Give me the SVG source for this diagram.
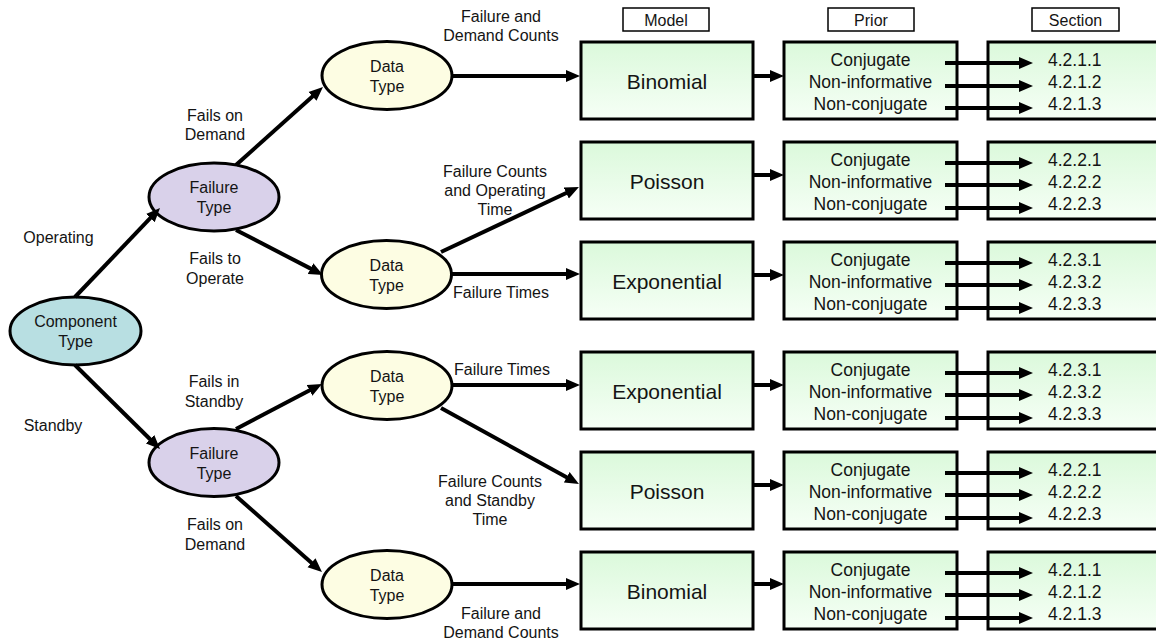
<svg xmlns="http://www.w3.org/2000/svg" width="1156" height="640" viewBox="0 0 1156 640">
<style>
text{font-family:"Liberation Sans",Arial,sans-serif;fill:#141414}
.lbl{font-size:16px;text-anchor:middle}
.node{font-size:16px;text-anchor:middle}
.model{font-size:21px;text-anchor:middle}
.prior{font-size:17.5px;text-anchor:middle}
.sec{font-size:17.5px}
.hdr{font-size:16px;text-anchor:middle}
.ell{stroke:#000;stroke-width:3}
.comp{fill:#b8dfe2}
.ft{fill:#d9d1ea}
.dt{fill:#fdfde3}
.box{fill:url(#g);stroke:#000;stroke-width:3}
.hbox{fill:#fff;stroke:#000;stroke-width:1.5}
.c line{stroke:#000;stroke-width:4;marker-end:url(#a)}
</style>
<defs>
<linearGradient id="g" x1="0" y1="0" x2="0" y2="1">
<stop offset="0" stop-color="#dbf9db"/>
<stop offset="1" stop-color="#f6fff6"/>
</linearGradient>
<marker id="a" markerUnits="userSpaceOnUse" markerWidth="15" markerHeight="13" refX="4" refY="6.5" orient="auto">
<path d="M0,0.5 L14,6.5 L0,12.5 z" fill="#000"/>
</marker>
</defs>

<g id="headers">
<rect class="hbox" x="623" y="8" width="86" height="23"/><text class="hdr" x="666" y="25.5">Model</text>
<rect class="hbox" x="828" y="8" width="86" height="23"/><text class="hdr" x="871" y="25.5">Prior</text>
<rect class="hbox" x="1032" y="8" width="87" height="23"/><text class="hdr" x="1075.5" y="25.5">Section</text>
</g>

<g id="component"><ellipse class="ell comp" cx="75.5" cy="331" rx="65.5" ry="34"/><text class="node" x="75.5" y="327">Component</text><text class="node" x="75.5" y="347">Type</text></g>
<g id="ft1"><ellipse class="ell ft" cx="214" cy="197" rx="65" ry="34"/><text class="node" x="214" y="193">Failure</text><text class="node" x="214" y="213">Type</text></g>
<g id="ft2"><ellipse class="ell ft" cx="214" cy="462.5" rx="65" ry="34"/><text class="node" x="214" y="458.5">Failure</text><text class="node" x="214" y="478.5">Type</text></g>
<g id="dt1"><ellipse class="ell dt" cx="387" cy="75.5" rx="65" ry="34"/><text class="node" x="387" y="71.5">Data</text><text class="node" x="387" y="91.5">Type</text></g>
<g id="dt2"><ellipse class="ell dt" cx="386.5" cy="274.5" rx="65" ry="34"/><text class="node" x="386.5" y="270.5">Data</text><text class="node" x="386.5" y="290.5">Type</text></g>
<g id="dt3"><ellipse class="ell dt" cx="387" cy="385.5" rx="65" ry="34"/><text class="node" x="387" y="381.5">Data</text><text class="node" x="387" y="401.5">Type</text></g>
<g id="dt4"><ellipse class="ell dt" cx="387" cy="584.5" rx="65" ry="34"/><text class="node" x="387" y="580.5">Data</text><text class="node" x="387" y="600.5">Type</text></g>

<g id="model1"><rect class="box" x="581" y="42" width="172" height="77"/><text class="model" x="667" y="89">Binomial</text></g>
<g id="model2"><rect class="box" x="581" y="142" width="172" height="77"/><text class="model" x="667" y="189">Poisson</text></g>
<g id="model3"><rect class="box" x="581" y="242" width="172" height="77"/><text class="model" x="667" y="289">Exponential</text></g>
<g id="model4"><rect class="box" x="581" y="352" width="172" height="77"/><text class="model" x="667" y="399">Exponential</text></g>
<g id="model5"><rect class="box" x="581" y="452" width="172" height="77"/><text class="model" x="667" y="499">Poisson</text></g>
<g id="model6"><rect class="box" x="581" y="552" width="172" height="77"/><text class="model" x="667" y="599">Binomial</text></g>

<g id="prior1"><rect class="box" x="784" y="42" width="173" height="77"/><text class="prior" x="870.5" y="66">Conjugate</text><text class="prior" x="870.5" y="88">Non-informative</text><text class="prior" x="870.5" y="110">Non-conjugate</text></g>
<g id="prior2"><rect class="box" x="784" y="142" width="173" height="77"/><text class="prior" x="870.5" y="166">Conjugate</text><text class="prior" x="870.5" y="188">Non-informative</text><text class="prior" x="870.5" y="210">Non-conjugate</text></g>
<g id="prior3"><rect class="box" x="784" y="242" width="173" height="77"/><text class="prior" x="870.5" y="266">Conjugate</text><text class="prior" x="870.5" y="288">Non-informative</text><text class="prior" x="870.5" y="310">Non-conjugate</text></g>
<g id="prior4"><rect class="box" x="784" y="352" width="173" height="77"/><text class="prior" x="870.5" y="376">Conjugate</text><text class="prior" x="870.5" y="398">Non-informative</text><text class="prior" x="870.5" y="420">Non-conjugate</text></g>
<g id="prior5"><rect class="box" x="784" y="452" width="173" height="77"/><text class="prior" x="870.5" y="476">Conjugate</text><text class="prior" x="870.5" y="498">Non-informative</text><text class="prior" x="870.5" y="520">Non-conjugate</text></g>
<g id="prior6"><rect class="box" x="784" y="552" width="173" height="77"/><text class="prior" x="870.5" y="576">Conjugate</text><text class="prior" x="870.5" y="598">Non-informative</text><text class="prior" x="870.5" y="620">Non-conjugate</text></g>

<g id="sec1"><rect class="box" x="988" y="42" width="180" height="77"/><text class="sec" x="1048" y="66">4.2.1.1</text><text class="sec" x="1048" y="88">4.2.1.2</text><text class="sec" x="1048" y="110">4.2.1.3</text></g>
<g id="sec2"><rect class="box" x="988" y="142" width="180" height="77"/><text class="sec" x="1048" y="166">4.2.2.1</text><text class="sec" x="1048" y="188">4.2.2.2</text><text class="sec" x="1048" y="210">4.2.2.3</text></g>
<g id="sec3"><rect class="box" x="988" y="242" width="180" height="77"/><text class="sec" x="1048" y="266">4.2.3.1</text><text class="sec" x="1048" y="288">4.2.3.2</text><text class="sec" x="1048" y="310">4.2.3.3</text></g>
<g id="sec4"><rect class="box" x="988" y="352" width="180" height="77"/><text class="sec" x="1048" y="376">4.2.3.1</text><text class="sec" x="1048" y="398">4.2.3.2</text><text class="sec" x="1048" y="420">4.2.3.3</text></g>
<g id="sec5"><rect class="box" x="988" y="452" width="180" height="77"/><text class="sec" x="1048" y="476">4.2.2.1</text><text class="sec" x="1048" y="498">4.2.2.2</text><text class="sec" x="1048" y="520">4.2.2.3</text></g>
<g id="sec6"><rect class="box" x="988" y="552" width="180" height="77"/><text class="sec" x="1048" y="576">4.2.1.1</text><text class="sec" x="1048" y="598">4.2.1.2</text><text class="sec" x="1048" y="620">4.2.1.3</text></g>

<g id="connectors" class="c">
<line x1="75" y1="297" x2="153.1" y2="215.2"/>
<line x1="75" y1="365" x2="152.9" y2="442"/>
<line x1="236" y1="165" x2="315.5" y2="93.7"/>
<line x1="236" y1="230" x2="314.1" y2="270.4"/>
<line x1="236" y1="429" x2="313.1" y2="388.6"/>
<line x1="236" y1="496" x2="314.5" y2="565.4"/>
<line x1="451" y1="76" x2="570" y2="76"/>
<line x1="441" y1="252" x2="569.9" y2="191.3"/>
<line x1="451" y1="274" x2="570" y2="274"/>
<line x1="451" y1="385" x2="570" y2="385"/>
<line x1="441" y1="408" x2="570.2" y2="479.2"/>
<line x1="451" y1="584" x2="570" y2="584"/>
<line x1="753" y1="76" x2="774" y2="76"/>
<line x1="753" y1="175" x2="774" y2="175"/>
<line x1="753" y1="275" x2="774" y2="275"/>
<line x1="753" y1="385" x2="774" y2="385"/>
<line x1="753" y1="485" x2="774" y2="485"/>
<line x1="753" y1="584" x2="774" y2="584"/>
<line x1="945" y1="63" x2="1023" y2="63"/><line x1="945" y1="86" x2="1023" y2="86"/><line x1="945" y1="108" x2="1023" y2="108"/>
<line x1="945" y1="163" x2="1023" y2="163"/><line x1="945" y1="185" x2="1023" y2="185"/><line x1="945" y1="208" x2="1023" y2="208"/>
<line x1="945" y1="263" x2="1023" y2="263"/><line x1="945" y1="285" x2="1023" y2="285"/><line x1="945" y1="308" x2="1023" y2="308"/>
<line x1="945" y1="373" x2="1023" y2="373"/><line x1="945" y1="395" x2="1023" y2="395"/><line x1="945" y1="418" x2="1023" y2="418"/>
<line x1="945" y1="473" x2="1023" y2="473"/><line x1="945" y1="495" x2="1023" y2="495"/><line x1="945" y1="518" x2="1023" y2="518"/>
<line x1="945" y1="573" x2="1023" y2="573"/><line x1="945" y1="595" x2="1023" y2="595"/><line x1="945" y1="618" x2="1023" y2="618"/>
</g>

<g id="edge-labels">
<text class="lbl" x="58.5" y="243">Operating</text>
<text class="lbl" x="53" y="431">Standby</text>
<text class="lbl" x="215" y="121">Fails on</text><text class="lbl" x="215" y="140">Demand</text>
<text class="lbl" x="215" y="264">Fails to</text><text class="lbl" x="215" y="284">Operate</text>
<text class="lbl" x="214" y="387">Fails in</text><text class="lbl" x="214" y="407">Standby</text>
<text class="lbl" x="215" y="530">Fails on</text><text class="lbl" x="215" y="550">Demand</text>
<text class="lbl" x="501" y="21.5">Failure and</text><text class="lbl" x="501" y="41">Demand Counts</text>
<text class="lbl" x="495" y="177">Failure Counts</text><text class="lbl" x="495" y="196">and Operating</text><text class="lbl" x="495" y="215">Time</text>
<text class="lbl" x="501" y="298">Failure Times</text>
<text class="lbl" x="502" y="375">Failure Times</text>
<text class="lbl" x="490" y="487">Failure Counts</text><text class="lbl" x="490" y="506">and Standby</text><text class="lbl" x="490" y="525">Time</text>
<text class="lbl" x="501" y="619">Failure and</text><text class="lbl" x="501" y="638">Demand Counts</text>
</g>
</svg>
